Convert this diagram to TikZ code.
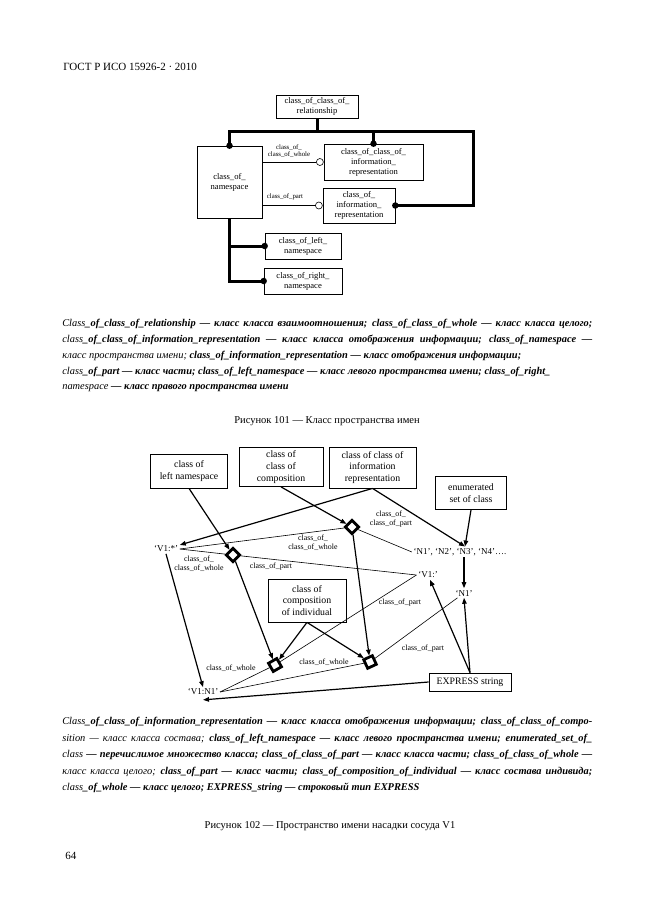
\documentclass[tikz,border=0pt]{standalone}
\usepackage{fontspec}
\setmainfont{Liberation Serif}
\usetikzlibrary{arrows.meta, calc}
\tikzset{
  every picture/.style={x=1pt, y=-1pt, line width=0.6pt},
  ent/.style={draw, line width=0.6pt, align=center, inner sep=1pt, font=\fontsize{8.6}{10}\selectfont},
  bus/.style={line width=3pt},
  dot/.style={circle, fill, inner sep=0pt, minimum size=6.5pt},
  ring/.style={circle, draw, fill=white, inner sep=0pt, minimum size=7pt, line width=0.6pt},
  role/.style={align=center, inner sep=0.5pt, font=\fontsize{6.8}{7.4}\selectfont},
  role2/.style={align=center, inner sep=0.5pt, font=\fontsize{7.9}{9}\selectfont},
  obj/.style={draw, line width=0.8pt, align=center, inner sep=1pt, font=\fontsize{9.8}{11.6}\selectfont},
  val/.style={inner sep=1.5pt, font=\fontsize{9}{10}\selectfont},
  rel/.style={draw, rectangle, line width=2.8pt, minimum size=9.5pt, inner sep=0pt, rotate=#1},
  rel/.default=45,
  arrow/.style={-{Triangle[length=6pt,width=4.5pt]}, line width=1.2pt},
  link/.style={line width=0.6pt},
  body/.style={anchor=west, inner sep=0pt, font=\fontsize{10.4}{12}\selectfont\bfseries\itshape},
  caption/.style={inner sep=0pt, font=\fontsize{10.5}{12}\selectfont},
}
\newcommand{\rg}[1]{{\mdseries #1}}
\begin{document}
\begin{tikzpicture}
  \useasboundingbox[fill=white] (0,0) rectangle (661,913);
  \newcommand{\bodyline}[3]{% y, width, text
    \node[body] at (62,#1) {\makebox[#2][s]{#3}};}
  \node[caption, anchor=west, font=\fontsize{11}{12}\selectfont] (head) at (63,67) {ГОСТ Р ИСО 15926-2 · 2010};

  % Figure 101
  \node[ent, minimum width=82pt, minimum height=23pt] (rel) at (317,106.5) {class\_of\_class\_of\_\\relationship};
  \node[ent, minimum width=65pt, minimum height=72pt] (ns) at (229.5,182) {class\_of\_\\namespace};
  \node[ent, minimum width=99pt, minimum height=36pt] (ccir) at (373.5,162) {class\_of\_class\_of\_\\information\_\\representation};
  \node[ent, minimum width=72pt, minimum height=35pt] (cir) at (359,205.5) {class\_of\_\\information\_\\representation};
  \node[ent, minimum width=76pt, minimum height=26pt] (lns) at (303,246) {class\_of\_left\_\\namespace};
  \node[ent, minimum width=78pt, minimum height=26pt] (rns) at (303,281) {class\_of\_right\_\\namespace};
  \coordinate (top) at (317,131);
  \coordinate (br) at (473,131);
  \draw[bus] (rel.south) -- (top);
  \draw[bus] (ns.north) -- (ns.north |- top) -- (br) |- (cir.east);
  \draw[bus] (ccir.north) -- (ccir.north |- top);
  \draw[bus] (ns.south) -- (ns.south |- rns.west) -- (rns.west);
  \draw[bus] (ns.south |- lns.west) -- (lns.west);
  \foreach \p in {ns.north, ccir.north, cir.east, lns.west, rns.west} \node[dot] at (\p) {};
  \node[ring, anchor=east] (w1) at (ccir.west) {};
  \node[ring, anchor=east] (w2) at (cir.west) {};
  \draw[link] (ns.east |- w1) -- (w1);
  \draw[link] (ns.east |- w2) -- (w2);
  \node[role] at (289,151) {class\_of\_\\class\_of\_whole};
  \node[role] at (285,197) {class\_of\_part};

  \bodyline{324}{530pt}{\rg{Class}\_of\_class\_of\_relationship — класс класса взаимоотношения; class\_of\_class\_of\_whole — класс класса целого;}
  \bodyline{340}{530pt}{\rg{class}\_of\_class\_of\_information\_representation — класс класса отображения информации; class\_of\_namespace —}
  \node[body] at (62,356) {\rg{класс пространства имени;} class\_of\_information\_representation — класс отображения информации;};
  \node[body] at (62,372) {\rg{class}\_of\_part — класс части; class\_of\_left\_namespace — класс левого пространства имени; class\_of\_right\_};
  \node[body] at (62,388) {\rg{namespace} — класс правого пространства имени};
  \node[caption] (cap1) at (327,421) {Рисунок 101 — Класс пространства имен};

  % Figure 102
  \node[obj, minimum width=77pt, minimum height=34pt] (lns2) at (189,471) {class of\\left namespace};
  \node[obj, minimum width=84pt, minimum height=39pt] (ccc) at (281,467) {class of\\class of\\composition};
  \node[obj, minimum width=87pt, minimum height=41pt] (ccir2) at (372.5,467.5) {class of class of\\information\\representation};
  \node[obj, minimum width=71pt, minimum height=33pt] (enum) at (471,493) {enumerated\\set of class};
  \node[obj, minimum width=78pt, minimum height=43pt] (cind) at (307,600.5) {class of\\composition\\of individual};
  \node[obj, minimum width=82pt, minimum height=18pt] (expr) at (470,682) {EXPRESS string};
  \node[rel] (d1) at (352,527) {};
  \node[rel] (d2) at (233,555) {};
  \node[rel=30] (d3) at (275,665) {};
  \node[rel=25] (d4) at (370,662) {};
  \node[val] (vstar) at (166,549) {‘V1:*’};
  \node[val] (nlist) at (460,552) {‘N1’, ‘N2’, ‘N3’, ‘N4’….};
  \node[val] (vcol) at (428,575) {‘V1:’};
  \node[val] (n1) at (464,593) {‘N1’};
  \node[val] (vn1) at (203,692) {‘V1:N1’};

  \draw[arrow] (lns2.south) -- (d2);
  \draw[arrow] (ccc.south) -- (d1);
  \draw[arrow] (ccir2.south) -- (vstar);
  \draw[arrow] (ccir2.south) -- ([xshift=5pt]nlist.north);
  \draw[arrow] (enum.south) -- ([xshift=5pt]nlist.north);
  \draw[arrow] (d2) -- (d3);
  \draw[arrow] (d1) -- (d4);
  \draw[arrow] (cind.south) -- (d3);
  \draw[arrow] (cind.south) -- (d4);
  \draw[arrow] (vstar.south) -- (vn1.north);
  \draw[arrow] (expr.west) -- ([yshift=-3pt]vn1.south);
  \draw[arrow] (expr.north) -- (vcol);
  \draw[arrow] (expr.north) -- (n1.south);
  \draw[arrow] (n1 |- nlist.south) -- (n1.north);

  \draw[link] (vstar.east) -- (d1);
  \draw[link] (d1) -- (nlist.west);
  \draw[link] (vstar.east) -- (d2);
  \draw[link] (d2) -- (vcol.west);
  \draw[link] (vcol.west) -- (d3);
  \draw[link] (d3) -- (vn1.east);
  \draw[link] (d4) -- (vn1.east);
  \draw[link] (d4) -- (n1);
  \node[role2] at (391,519) {class\_of\_\\class\_of\_part};
  \node[role2] at (313,543) {class\_of\_\\class\_of\_whole};
  \node[role2] at (199,564) {class\_of\_\\class\_of\_whole};
  \node[role2] at (271,567) {class\_of\_part};
  \node[role2] at (400,603) {class\_of\_part};
  \node[role2] at (231,668) {class\_of\_whole};
  \node[role2] at (324,662) {class\_of\_whole};
  \node[role2] at (423,649) {class\_of\_part};

  \bodyline{722}{530pt}{\rg{Class}\_of\_class\_of\_information\_representation — класс класса отображения информации; class\_of\_class\_of\_compo-}
  \bodyline{739}{530pt}{\rg{sition — класс класса состава;} class\_of\_left\_namespace — класс левого пространства имени; enumerated\_set\_of\_}
  \bodyline{755}{530pt}{\rg{class} — перечислимое множество класса; class\_of\_class\_of\_part — класс класса части; class\_of\_class\_of\_whole —}
  \bodyline{772}{530pt}{\rg{класс класса целого;} class\_of\_part — класс части; class\_of\_composition\_of\_individual — класс состава индивида;}
  \node[body] at (62,788) {\rg{class}\_of\_whole — класс целого; EXPRESS\_string — строковый тип EXPRESS};
  \node[caption] (cap2) at (330,826) {Рисунок 102 — Пространство имени насадки сосуда V1};
  \node[caption, anchor=west, font=\fontsize{11}{12}\selectfont] (page) at (65,856) {64};
\end{tikzpicture}
\end{document}
